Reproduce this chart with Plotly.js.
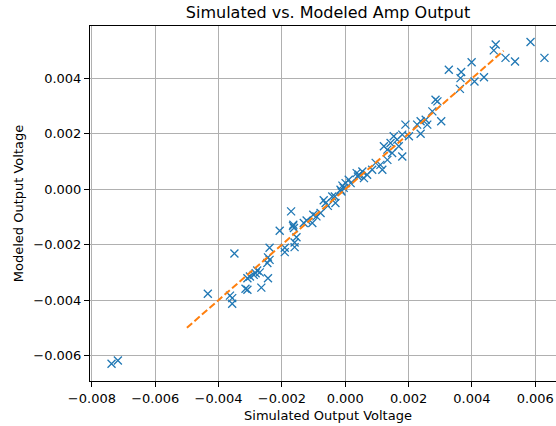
<!DOCTYPE html>
<html>
<head>
<meta charset="utf-8">
<script src="https://cdn.plot.ly/plotly-3.0.1.min.js"></script>
<style>
html, body { margin: 0; padding: 0; overflow: hidden; background: #fff; }
#chart { width: 570px; height: 426px; }
</style>
</head>
<body>
<div id="chart"></div>
<script>
// Simulated output voltage (x) and modeled output voltage (y), volts
const simulatedOutput = [
  -0.00738, -0.00718,
  -0.00207, -0.00350, -0.00239, -0.00191, -0.00191, -0.00244, -0.00239, -0.00246,
  -0.00278, -0.00270, -0.00283, -0.00289, -0.00301, -0.00309, -0.00244, -0.00315,
  -0.00309, -0.00265, -0.00434, -0.00364, -0.00357, -0.00357,
  -0.00171, -0.00164, -0.00162, -0.00165, -0.00154, -0.00160, -0.00160, -0.00122,
  -0.00131, -0.00104, -0.00101, -0.00091, -0.00078, -0.00062, -0.00068, -0.00055,
  -0.00031, -0.00033, -0.00041, -0.00015, -0.00009, 0.00001, 0.00011, 0.00017,
  0.00036, 0.00040, -0.00012, -0.00005,
  0.00043, 0.00054, 0.00059, 0.00069, 0.00085, 0.00096, 0.00111, 0.00117,
  0.00133, 0.00133, 0.00122, 0.00148, 0.00143, 0.00153, 0.00164, 0.00169,
  0.00180, 0.00180, 0.00190, 0.00201, 0.00227, 0.00238, 0.00238, 0.00259,
  0.00254, 0.00275, 0.00285, 0.00291, 0.00303, 0.00327, 0.00362, 0.00364,
  0.00366, 0.00399, 0.00408, 0.00438, 0.00469, 0.00475, 0.00506, 0.00536,
  0.00585, 0.00629
];
const modeledOutput = [
  -0.00630, -0.00618,
  -0.00150, -0.00232, -0.00211, -0.00211, -0.00227, -0.00246, -0.00255, -0.00266,
  -0.00293, -0.00300, -0.00303, -0.00309, -0.00315, -0.00321, -0.00321, -0.00359,
  -0.00363, -0.00355, -0.00377, -0.00384, -0.00393, -0.00413,
  -0.00080, -0.00128, -0.00140, -0.00133, -0.00173, -0.00192, -0.00209, -0.00113,
  -0.00122, -0.00122, -0.00092, -0.00098, -0.00086, -0.00050, -0.00040, -0.00060,
  -0.00050, -0.00026, -0.00026, -0.00002, 0.00013, 0.00022, 0.00034, 0.00022,
  0.00058, 0.00046, -0.00008, 0.00005,
  0.00052, 0.00064, 0.00040, 0.00052, 0.00070, 0.00095, 0.00088, 0.00070,
  0.00106, 0.00143, 0.00155, 0.00131, 0.00167, 0.00191, 0.00179, 0.00155,
  0.00118, 0.00197, 0.00233, 0.00191, 0.00233, 0.00245, 0.00200, 0.00233,
  0.00251, 0.00281, 0.00323, 0.00317, 0.00245, 0.00431, 0.00362, 0.00401,
  0.00423, 0.00458, 0.00389, 0.00404, 0.00501, 0.00522, 0.00474, 0.00461,
  0.00531, 0.00474
];
// Ideal reference line y = x
const idealLineX = [-0.005, 0.005];
const idealLineY = [-0.005, 0.005];
// Axis ticks
const tickValues = [-0.008, -0.006, -0.004, -0.002, 0, 0.002, 0.004, 0.006];

const traces = [
  {
    x: simulatedOutput, y: modeledOutput, type: 'scatter', mode: 'markers',
    marker: { symbol: 'x-thin', size: 8, color: '#1f77b4', line: { width: 1.3, color: '#1f77b4' } },
    hoverinfo: 'x+y', showlegend: false
  },
  {
    x: idealLineX, y: idealLineY, type: 'scatter', mode: 'lines',
    line: { color: '#ff7f0e', width: 2, dash: '7px,3px' },
    showlegend: false
  }
];

const axisCommon = {
  showline: true, mirror: true, linecolor: '#000', linewidth: 1,
  ticks: 'outside', ticklen: 5, tickwidth: 1, tickcolor: '#000',
  showgrid: true, gridcolor: '#b0b0b0', gridwidth: 1,
  zeroline: false, tickformat: '.3f',
  tickfont: { family: 'DejaVu Sans', size: 13, color: '#000' },
  tickvals: tickValues, automargin: false
};

const layout = {
  width: 570, height: 426,
  margin: { l: 90, r: 4, t: 26, b: 45 },
  paper_bgcolor: '#fff', plot_bgcolor: '#fff',
  font: { family: 'DejaVu Sans', color: '#000' },
  title: {
    text: 'Simulated vs. Modeled Amp Output',
    font: { family: 'DejaVu Sans', size: 16, color: '#000' },
    x: 0.5, xref: 'paper', xanchor: 'center',
    y: 1 - 12 / 426, yref: 'container', yanchor: 'middle'
  },
  xaxis: Object.assign({}, axisCommon, {
    range: [-0.00806, 0.00697],
    title: { text: 'Simulated Output Voltage', font: { family: 'DejaVu Sans', size: 13, color: '#000' }, standoff: 6 }
  }),
  yaxis: Object.assign({}, axisCommon, {
    range: [-0.00692, 0.00589],
    title: { text: 'Modeled Output Voltage', font: { family: 'DejaVu Sans', size: 13, color: '#000' }, standoff: 6 }
  })
};

Plotly.newPlot('chart', traces, layout, { displayModeBar: false, staticPlot: true });
</script>
</body>
</html>
